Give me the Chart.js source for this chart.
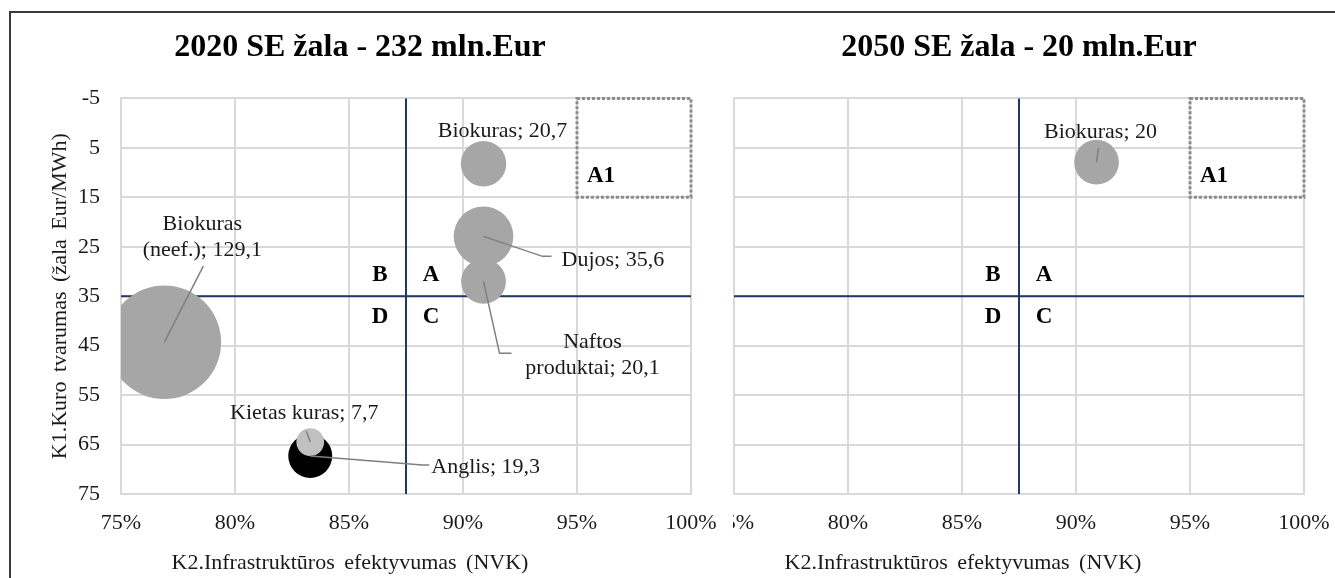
<!DOCTYPE html>
<html>
<head>
<meta charset="utf-8">
<script src="https://cdn.jsdelivr.net/npm/chart.js@4"></script>
<style>
  html, body { margin: 0; padding: 0; background: #fff; }
  #page { position: relative; width: 1335px; height: 578px; overflow: hidden; background: #fff; }
  #frame { position: absolute; left: 9px; top: 11px; width: 1400px; height: 700px; border-left: 2px solid #3a3a3a; border-top: 2px solid #3a3a3a; }
  .box { position: absolute; top: 0; width: 740px; height: 578px; }
  #clip2050 { position: absolute; left: 733px; top: 0; width: 602px; height: 578px; overflow: hidden; }
</style>
</head>
<body>
<div id="page">
  <div id="frame"></div>
  <div class="box" style="left:0"><canvas id="c2020" width="740" height="578"></canvas></div>
  <div id="clip2050"><div class="box" style="left:-120px"><canvas id="c2050" width="740" height="578"></canvas></div></div>
</div>
<script>
// 2020: fuels, K2 efficiency (x), K1 sustainability (y), damage mln. Eur (bubble size)
const fuels2020 = ['Biokuras (neef.)', 'Biokuras', 'Dujos', 'Naftos produktai', 'Anglis', 'Kietas kuras'];
const efficiency2020 = [0.769, 0.909, 0.909, 0.909, 0.833, 0.833];
const sustainability2020 = [44.3, 8.2, 22.9, 32.0, 67.3, 64.5];
const damage2020 = [129.1, 20.7, 35.6, 20.1, 19.3, 7.7];

// 2050
const fuels2050 = ['Biokuras'];
const efficiency2050 = [0.909];
const sustainability2050 = [7.9];
const damage2050 = [20];

const xTicks = [0.75, 0.80, 0.85, 0.90, 0.95, 1.00];
const yTicks = [-5, 5, 15, 25, 35, 45, 55, 65, 75];

// quadrant split and the A1 target zone
const xSplit = 0.875;
const ySplit = 35;
const a1Box = [0.95, 1.00, -5, 15];

const xTitle = 'K2.Infrastruktūros efektyvumas (NVK)';
const yTitle = 'K1.Kuro tvarumas (žala Eur/MWh)';

const fuelColors = { 'Anglis': '#000000', 'Kietas kuras': '#c0c0c0' };
const colorFor = n => fuelColors[n] || '#a6a6a6';

// label offsets (px) from bubble centre, leader polyline points
const place2020 = [
  { dx: 38, dy: -105, align: 'center', wrap: true, leader: [[39, -76]] },
  { dx: 19, dy: -32, align: 'center' },
  { dx: 78, dy: 24, align: 'left', leader: [[59, 20], [68, 20]] },
  { dx: 109, dy: 74, align: 'center', wrap: true, leader: [[16, 72], [28, 72]] },
  { dx: 121, dy: 11, align: 'left', leader: [[112, 9], [119, 9]] },
  { dx: -6, dy: -29, align: 'center', leader: [[-4, -11]] }
];
const place2050 = [
  { dx: 4, dy: -30, align: 'center', leader: [[2, -14]] }
];

const SERIF = '"Liberation Serif", "Times New Roman", serif';
Chart.defaults.font.family = SERIF;
Chart.defaults.color = '#1a1a1a';

const extras = {};

const quadrants = {
  id: 'quadrants',
  beforeDatasetsDraw(chart) {
    const { ctx, chartArea: a, scales: { x, y } } = chart;
    ctx.save();
    // dotted A1 box
    const bx0 = x.getPixelForValue(a1Box[0]), bx1 = x.getPixelForValue(a1Box[1]);
    const by0 = y.getPixelForValue(a1Box[2]), by1 = y.getPixelForValue(a1Box[3]);
    ctx.strokeStyle = '#8c8c8c';
    ctx.lineWidth = 3;
    ctx.setLineDash([3, 2]);
    ctx.strokeRect(bx0, by0, bx1 - bx0, by1 - by0);
    ctx.setLineDash([]);
    // split lines
    const sx = x.getPixelForValue(xSplit), sy = y.getPixelForValue(ySplit);
    ctx.strokeStyle = '#1f3864';
    ctx.lineWidth = 2;
    ctx.beginPath();
    ctx.moveTo(sx, a.top); ctx.lineTo(sx, a.bottom);
    ctx.moveTo(a.left, sy); ctx.lineTo(a.right, sy);
    ctx.stroke();
    ctx.restore();
  },
  afterDatasetsDraw(chart) {
    const { ctx, chartArea: a, scales: { x, y } } = chart;
    const ex = extras[chart.canvas.id];
    const meta = chart.getDatasetMeta(0);
    ctx.save();
    // leader lines
    ctx.strokeStyle = '#7f7f7f';
    ctx.lineWidth = 1.5;
    ex.names.forEach((n, i) => {
      const p = ex.place[i];
      if (!p.leader) return;
      const el = meta.data[i];
      ctx.beginPath();
      ctx.moveTo(el.x, el.y);
      p.leader.forEach(([dx, dy]) => ctx.lineTo(el.x + dx, el.y + dy));
      ctx.stroke();
    });
    // data labels
    ctx.fillStyle = '#1a1a1a';
    ctx.font = '22px ' + SERIF;
    ctx.textBaseline = 'middle';
    ex.names.forEach((n, i) => {
      const p = ex.place[i];
      const el = meta.data[i];
      const text = n + '; ' + String(ex.values[i]).replace('.', ',');
      let lines = [text];
      if (p.wrap) {
        const k = text.indexOf(' ');
        lines = [text.slice(0, k), text.slice(k + 1)];
      }
      ctx.textAlign = p.align;
      const lh = 26;
      const y0 = el.y + p.dy - (lines.length - 1) * lh / 2;
      lines.forEach((t, j) => ctx.fillText(t, el.x + p.dx, y0 + j * lh));
    });
    // quadrant letters
    const sx = x.getPixelForValue(xSplit), sy = y.getPixelForValue(ySplit);
    ctx.fillStyle = '#000';
    ctx.font = 'bold 23px ' + SERIF;
    ctx.textAlign = 'center';
    [['B', -26, -21], ['A', 25, -21], ['D', -26, 21], ['C', 25, 21]].forEach(([t, dx, dy]) => {
      ctx.fillText(t, sx + dx, sy + dy);
    });
    ctx.textAlign = 'left';
    ctx.fillText('A1', x.getPixelForValue(a1Box[0]) + 10, y.getPixelForValue(a1Box[3]) - 21);
    // axis titles, with the wider word gaps
    ctx.fillStyle = '#1a1a1a';
    ctx.font = '22px ' + SERIF;
    ctx.textAlign = 'center';
    if ('wordSpacing' in ctx) ctx.wordSpacing = '4px';
    ctx.fillText(xTitle, (a.left + a.right) / 2 - 56, 563);
    ctx.translate(a.left - 61, (a.top + a.bottom) / 2);
    ctx.rotate(-Math.PI / 2);
    ctx.fillText(yTitle, 0, 0);
    ctx.restore();
  }
};

function makeChart(id, title, names, xs, ys, vals, place, titleFull) {
  extras[id] = { names, values: vals, place };
  const points = names.map((n, i) => ({ x: xs[i], y: ys[i], r: 5 * Math.sqrt(vals[i]) }));
  return new Chart(document.getElementById(id), {
    type: 'bubble',
    data: {
      datasets: [{
        label: title,
        data: points,
        backgroundColor: names.map(colorFor),
        borderWidth: 0,
        hoverBorderWidth: 0,
        clip: 0
      }]
    },
    options: {
      responsive: false,
      animation: false,
      events: [],
      layout: { autoPadding: false, padding: { left: 29, right: 49, top: 0, bottom: 0 } },
      plugins: {
        legend: { display: false },
        tooltip: { enabled: false },
        title: {
          display: true,
          text: title,
          fullSize: titleFull,
          color: '#000',
          font: { size: 32, weight: 'bold', lineHeight: 1.2 },
          padding: { top: 29, bottom: 31 }
        }
      },
      scales: {
        x: {
          type: 'linear',
          min: xTicks[0],
          max: xTicks[xTicks.length - 1],
          afterBuildTicks: s => { s.ticks = xTicks.map(v => ({ value: v })); },
          afterFit: s => { s.height = 84; s.paddingLeft = 0; s.paddingRight = 0; },
          grid: { color: '#d9d9d9', lineWidth: 2, drawTicks: false },
          border: { color: '#d9d9d9', width: 2 },
          ticks: {
            padding: 16,
            autoSkip: false,
            maxRotation: 0,
            font: { size: 22 },
            callback: v => Math.round(v * 100) + '%'
          }
        },
        y: {
          type: 'linear',
          reverse: true,
          min: yTicks[0],
          max: yTicks[yTicks.length - 1],
          afterBuildTicks: s => { s.ticks = yTicks.map(v => ({ value: v })); },
          afterFit: s => { s.width = 92; s.paddingTop = 0; s.paddingBottom = 0; },
          grid: { color: '#d9d9d9', lineWidth: 2, drawTicks: false },
          border: { color: '#d9d9d9', width: 2 },
          ticks: { padding: 21, font: { size: 22 } }
        }
      }
    },
    plugins: [quadrants]
  });
}

makeChart('c2020', '2020 SE žala - 232 mln.Eur', fuels2020, efficiency2020, sustainability2020, damage2020, place2020, true);
makeChart('c2050', '2050 SE žala - 20 mln.Eur', fuels2050, efficiency2050, sustainability2050, damage2050, place2050, false);
</script>
</body>
</html>
